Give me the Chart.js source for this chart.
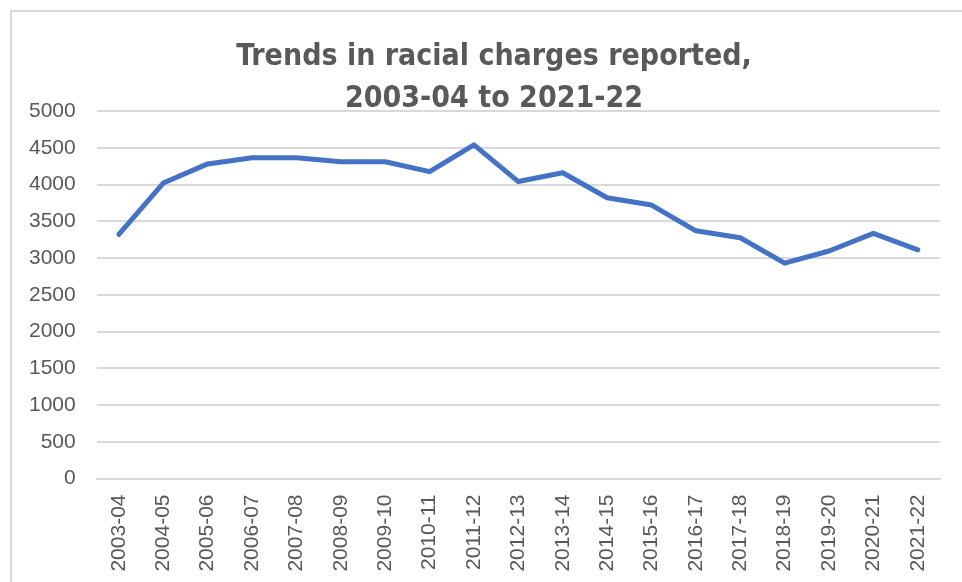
<!DOCTYPE html>
<html>
<head>
<meta charset="utf-8">
<script src="https://cdn.jsdelivr.net/npm/chart.js@4.4.1/dist/chart.umd.min.js"></script>
<style>
  html, body { margin: 0; padding: 0; background: #fff; }
  #wrap { position: relative; width: 962px; height: 582px; overflow: hidden; }
  #frame { position: absolute; left: 10px; top: 10px; width: 1000px; height: 600px;
           border-left: 2px solid #d9d9d9; border-top: 2px solid #d9d9d9; }
  #c { position: absolute; left: 0; top: 0; }
</style>
</head>
<body>
<div id="wrap">
  <div id="frame"></div>
  <canvas id="c" width="962" height="582"></canvas>
</div>
<script>
// 年度ラベル
const years = [
  '2003-04', '2004-05', '2005-06', '2006-07', '2007-08', '2008-09', '2009-10',
  '2010-11', '2011-12', '2012-13', '2013-14', '2014-15', '2015-16', '2016-17',
  '2017-18', '2018-19', '2019-20', '2020-21', '2021-22'
];

// 報告件数
const charges = [
  3320, 4020, 4280, 4365, 4365, 4310, 4310,
  4175, 4540, 4040, 4160, 3820, 3720, 3370,
  3275, 2930, 3095, 3335, 3110
];

const titleLines = ['Trends in racial charges reported,', '2003-04 to 2021-22'];

const gray = '#595959';
const gridGray = '#d9d9d9';
const tickFont = { family: '"Liberation Sans", Arial, sans-serif', size: 21 };

new Chart(document.getElementById('c'), {
  type: 'line',
  data: {
    labels: years,
    datasets: [{
      data: charges,
      borderColor: '#4472c4',
      backgroundColor: '#4472c4',
      borderWidth: 5,
      pointRadius: 0,
      tension: 0,
      fill: false,
      borderCapStyle: 'round',
      borderJoinStyle: 'round'
    }]
  },
  options: {
    responsive: false,
    animation: false,
    layout: { padding: { left: 26, right: 0, top: 0, bottom: 0 } },
    plugins: {
      legend: { display: false },
      tooltip: { enabled: false },
      title: {
        display: true,
        text: titleLines,
        color: gray,
        font: { family: '"Liberation Sans Narrow", "DejaVu Sans Condensed", sans-serif', size: 30, weight: 'bold', lineHeight: 1.4 },
        padding: { top: 36, bottom: -9 }
      }
    },
    scales: {
      x: {
        offset: true,
        grid: { display: false, drawTicks: false },
        border: { display: true, color: gridGray, width: 2 },
        ticks: { color: gray, font: tickFont, minRotation: 90, maxRotation: 90, padding: 16, autoSkip: false },
        afterFit: s => { s.height = 103.5; }
      },
      y: {
        min: 0,
        max: 5000,
        grid: { color: gridGray, lineWidth: 2, drawTicks: false },
        border: { display: false },
        ticks: { stepSize: 500, color: gray, font: tickFont, padding: 21, callback: v => String(v) },
        afterFit: s => { s.width = 70.7; }
      },
      // 右側の余白用（表示なし）
      yRight: {
        position: 'right',
        grid: { display: false, drawTicks: false },
        border: { display: false },
        ticks: { display: false },
        afterFit: s => { s.width = 22; }
      }
    }
  }
});
</script>
</body>
</html>
